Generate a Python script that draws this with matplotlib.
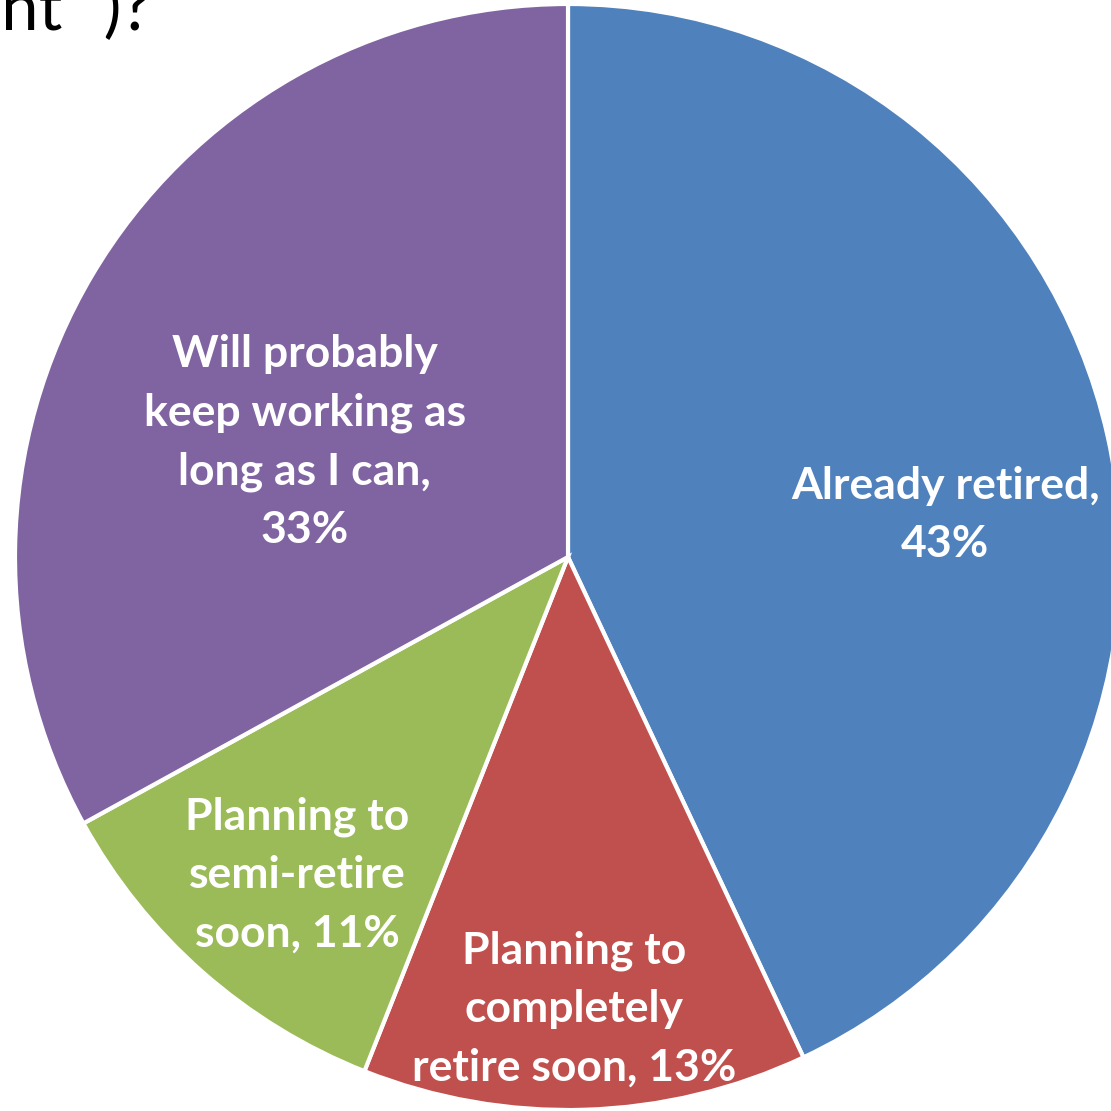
import matplotlib
matplotlib.use("Agg")
import matplotlib.pyplot as plt

categories = ["Already retired", "Planning to completely retire soon",
              "Planning to semi-retire soon", "Will probably keep working as long as I can"]
values = [43, 13, 11, 33]
labels = ["Already retired,\n43%", "Planning to\ncompletely\nretire soon, 13%",
          "Planning to\nsemi-retire\nsoon, 11%", "Will probably\nkeep working as\nlong as I can,\n33%"]
colors = ["#4F81BD", "#C0504D", "#9BBB59", "#8064A2"]
label_pos = [(0.682, 0.076), (0.011, -0.817), (-0.490, -0.575), (-0.476, 0.208)]

W = H = 1111
fig = plt.figure(figsize=(W / 100, H / 100), dpi=100)
cx, cy, r = 568, 557, 553
ax = fig.add_axes([(cx - r) / W, (H - cy - r) / H, 2 * r / W, 2 * r / H])
ax.pie(values, colors=colors, startangle=90, counterclock=False, radius=1,
       wedgeprops=dict(edgecolor="white", linewidth=3))
ax.set_xlim(-1, 1)
ax.set_ylim(-1, 1)
ax.set_aspect("equal")
ax.axis("off")

for lab, (x, y) in zip(labels, label_pos):
    ax.text(x, y, lab, ha="center", va="center", color="white",
            fontsize=32, fontweight="bold", family="Lato", linespacing=1.55)

fig.text(151 / W, 1 - 30 / H, 'ent\u201d )?', ha="right", va="baseline",
         fontsize=48, family="Lato", color="black")

fig.savefig("out.png", dpi=100)
